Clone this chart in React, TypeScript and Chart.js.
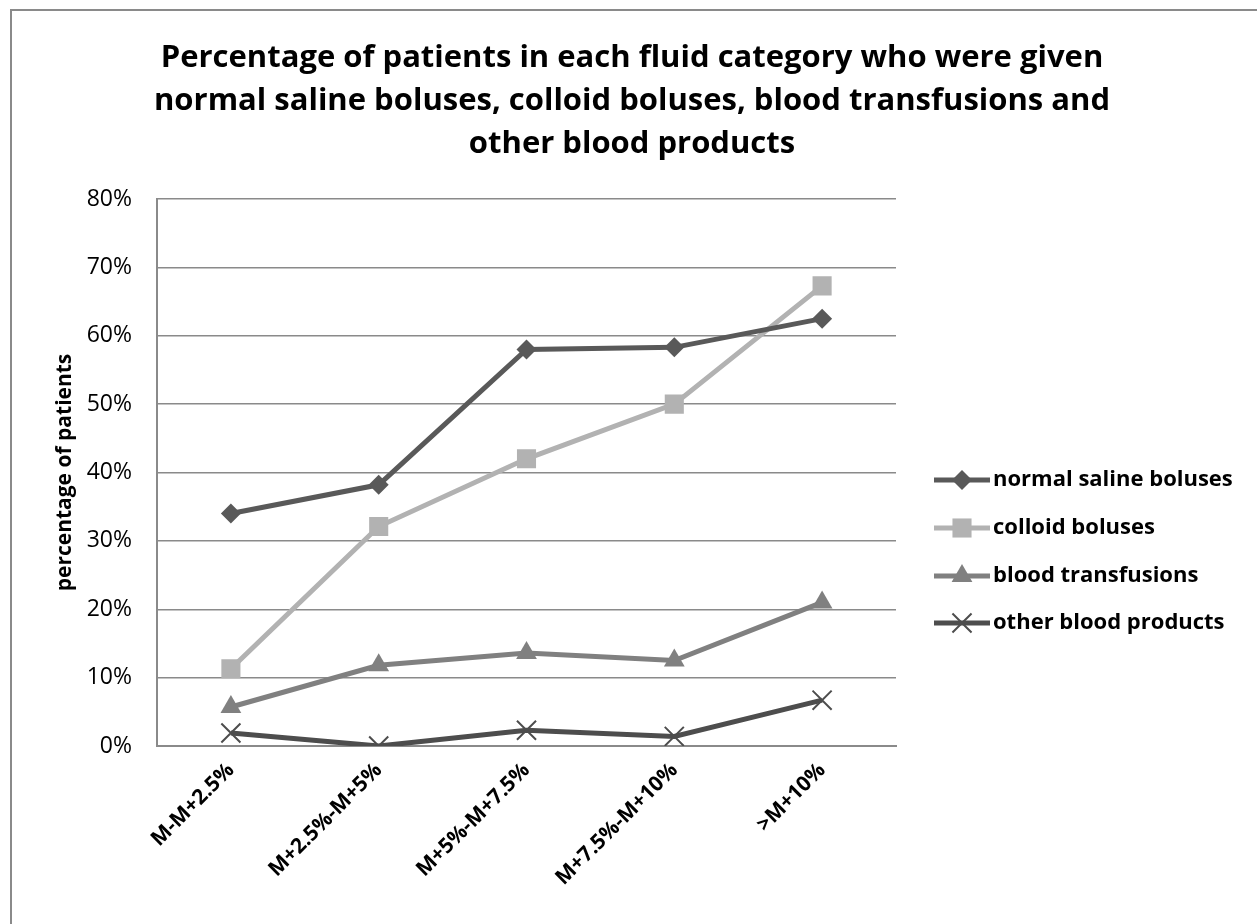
import React, { useEffect, useRef } from "react";
import { Chart, registerables } from "chart.js";

Chart.register(...registerables);

const categories = ["M-M+2.5%", "M+2.5%-M+5%", "M+5%-M+7.5%", "M+7.5%-M+10%", ">M+10%"];
const normalSaline = [34.0, 38.2, 58.0, 58.3, 62.5];
const colloid = [11.3, 32.1, 42.0, 50.0, 67.3];
const bloodTransfusions = [5.7, 11.8, 13.6, 12.5, 21.0];
const otherBloodProducts = [1.9, 0.0, 2.3, 1.4, 6.7];
const seriesNames = ["normal saline boluses", "colloid boluses", "blood transfusions", "other blood products"];
const yTicks = [0, 10, 20, 30, 40, 50, 60, 70, 80];
const titleLines = [
  "Percentage of patients in each fluid category who were given",
  "normal saline boluses, colloid boluses, blood transfusions and",
  "other blood products",
];

const FONT = "'Open Sans', Lato, sans-serif";

function drawMarker(ctx: CanvasRenderingContext2D, style: string, r: number, x: number, y: number, fill: string, stroke: string) {
  ctx.save();
  ctx.fillStyle = fill;
  ctx.strokeStyle = stroke;
  ctx.beginPath();
  if (style === "rectRot") {
    ctx.moveTo(x - r, y);
    ctx.lineTo(x, y - r);
    ctx.lineTo(x + r, y);
    ctx.lineTo(x, y + r);
    ctx.closePath();
    ctx.fill();
  } else if (style === "rect") {
    const s = Math.SQRT1_2 * r;
    ctx.rect(x - s, y - s, 2 * s, 2 * s);
    ctx.fill();
  } else if (style === "triangle") {
    for (let k = 0; k < 3; k++) {
      const a = (k * 2 * Math.PI) / 3;
      const px = x + Math.sin(a) * r;
      const py = y - Math.cos(a) * r;
      if (k === 0) ctx.moveTo(px, py);
      else ctx.lineTo(px, py);
    }
    ctx.closePath();
    ctx.fill();
  } else {
    const o = Math.SQRT1_2 * r;
    ctx.lineWidth = 2;
    ctx.moveTo(x - o, y - o);
    ctx.lineTo(x + o, y + o);
    ctx.moveTo(x - o, y + o);
    ctx.lineTo(x + o, y - o);
    ctx.stroke();
  }
  ctx.restore();
}

const decorPlugin = {
  id: "decor",
  afterDraw(chart: any) {
    const ctx = chart.ctx;
    ctx.save();
    // outer frame (top & left visible)
    ctx.strokeStyle = "#8a8a8a";
    ctx.lineWidth = 2;
    ctx.beginPath();
    ctx.moveTo(11, 924);
    ctx.lineTo(11, 10);
    ctx.lineTo(1257, 10);
    ctx.stroke();

    // title
    ctx.fillStyle = "#000";
    ctx.font = `bold 31px ${FONT}`;
    ctx.textAlign = "center";
    ctx.textBaseline = "middle";
    const ty = [58, 101, 144];
    titleLines.forEach((t, i) => ctx.fillText(t, 632, ty[i]));

    // legend
    const ys = [480, 528, 576, 623];
    chart.data.datasets.forEach((ds: any, i: number) => {
      const y = ys[i];
      ctx.strokeStyle = ds.borderColor;
      ctx.lineWidth = 5;
      ctx.beginPath();
      ctx.moveTo(934, y);
      ctx.lineTo(990, y);
      ctx.stroke();
      drawMarker(ctx, ds.pointStyle, ds.pointRadius, 962, y, ds.pointBackgroundColor, ds.pointBorderColor);
      ctx.fillStyle = "#000";
      ctx.font = `bold 22px ${FONT}`;
      ctx.textAlign = "left";
      ctx.textBaseline = "middle";
      ctx.fillText(ds.label, 993, y);
    });
    ctx.restore();
  },
};

export default function App() {
  const ref = useRef<HTMLCanvasElement>(null);
  useEffect(() => {
    document.body.style.margin = "0";
    const mk = (label: string, data: number[], color: string, style: string, r: number, extra: any = {}) => ({
      label,
      data,
      borderColor: color,
      backgroundColor: color,
      borderWidth: 5,
      pointStyle: style,
      pointRadius: r,
      pointHoverRadius: r,
      pointBackgroundColor: color,
      pointBorderColor: color,
      pointBorderWidth: 0,
      tension: 0,
      ...extra,
    });
    const chart = new Chart(ref.current as HTMLCanvasElement, {
      type: "line",
      data: {
        labels: categories,
        datasets: [
          mk(seriesNames[0], normalSaline, "#595959", "rectRot", 10),
          mk(seriesNames[1], colloid, "#b2b2b2", "rect", 13.5),
          mk(seriesNames[2], bloodTransfusions, "#808080", "triangle", 12),
          mk(seriesNames[3], otherBloodProducts, "#4d4d4d", "crossRot", 13.5, { pointBorderWidth: 2, pointBorderColor: "#4d4d4d" }),
        ],
      },
      options: {
        animation: false,
        responsive: false,
        devicePixelRatio: 1,
        layout: { padding: { left: 0, right: 361, top: 199, bottom: 0 } },
        plugins: {
          legend: { display: false },
          tooltip: { enabled: false },
          title: { display: false },
        },
        scales: {
          x: {
            offset: true,
            grid: { display: false, drawTicks: false },
            border: { display: true, color: "#8a8a8a", width: 2 },
            ticks: {
              color: "#000",
              minRotation: 45,
              maxRotation: 45,
              padding: 12,
              font: { family: FONT, size: 21, weight: "bold" },
            },
            afterFit: (s: any) => {
              s.height = 924 - 746;
            },
          },
          y: {
            min: 0,
            max: 80,
            afterBuildTicks: (s: any) => {
              s.ticks = yTicks.map((v) => ({ value: v }));
            },
            grid: { color: "#8a8a8a", lineWidth: 1.5, drawTicks: false },
            border: { display: true, color: "#8a8a8a", width: 2 },
            ticks: {
              color: "#000",
              padding: 25,
              font: { family: FONT, size: 23 },
              callback: (v: any) => v + "%",
            },
            title: {
              display: true,
              text: "percentage of patients",
              color: "#000",
              font: { family: FONT, size: 21, weight: "bold" },
              padding: { top: 52, bottom: 0 },
            },
            afterFit: (s: any) => {
              s.width = 157;
            },
          },
        },
      },
      plugins: [decorPlugin],
    });
    return () => chart.destroy();
  }, []);
  return <canvas ref={ref} width={1257} height={924} style={{ display: "block" }} />;
}
